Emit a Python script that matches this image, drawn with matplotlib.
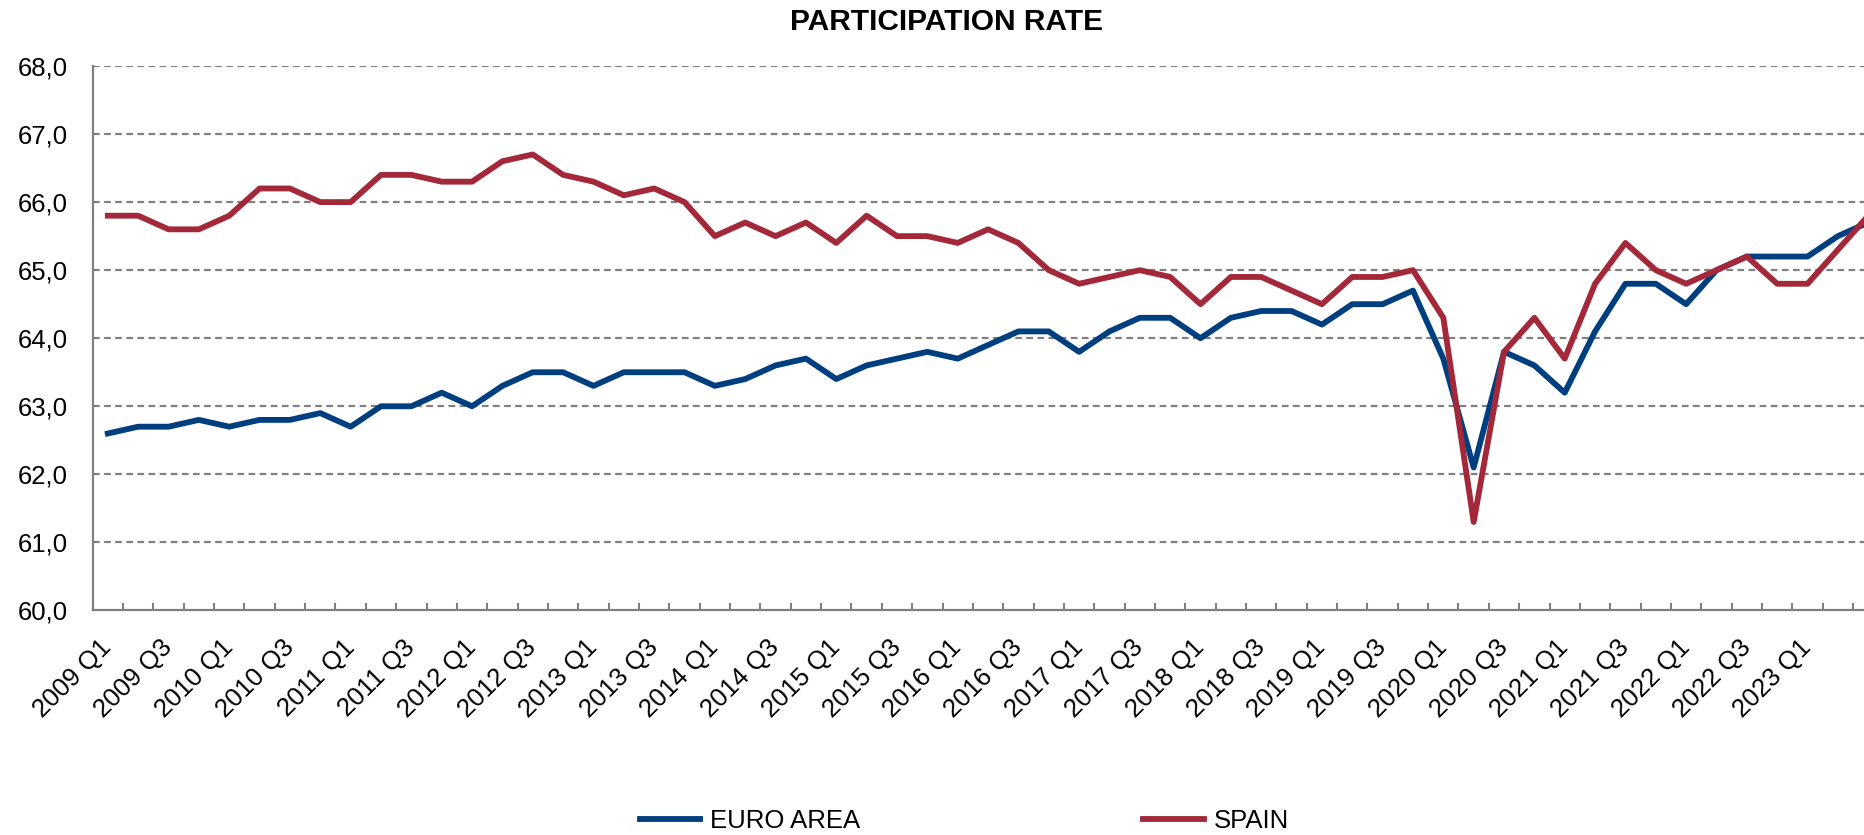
import matplotlib
matplotlib.use('Agg')
import matplotlib.pyplot as plt
import numpy as np

plt.rcParams['font.family'] = ['Liberation Sans', 'DejaVu Sans']

# Quarterly categories 2009 Q1 - 2023 Q3
quarters = [f'{y} Q{q}' for y in range(2009, 2024) for q in range(1, 5)][:59]

euro_area = [62.6, 62.7, 62.7, 62.8, 62.7, 62.8, 62.8, 62.9,
             62.7, 63.0, 63.0, 63.2, 63.0, 63.3, 63.5, 63.5,
             63.3, 63.5, 63.5, 63.5, 63.3, 63.4, 63.6, 63.7,
             63.4, 63.6, 63.7, 63.8, 63.7, 63.9, 64.1, 64.1,
             63.8, 64.1, 64.3, 64.3, 64.0, 64.3, 64.4, 64.4,
             64.2, 64.5, 64.5, 64.7, 63.7, 62.1, 63.8, 63.6,
             63.2, 64.1, 64.8, 64.8, 64.5, 65.0, 65.2, 65.2,
             65.2, 65.5, 65.7]

spain = [65.8, 65.8, 65.6, 65.6, 65.8, 66.2, 66.2, 66.0,
         66.0, 66.4, 66.4, 66.3, 66.3, 66.6, 66.7, 66.4,
         66.3, 66.1, 66.2, 66.0, 65.5, 65.7, 65.5, 65.7,
         65.4, 65.8, 65.5, 65.5, 65.4, 65.6, 65.4, 65.0,
         64.8, 64.9, 65.0, 64.9, 64.5, 64.9, 64.9, 64.7,
         64.5, 64.9, 64.9, 65.0, 64.3, 61.3, 63.8, 64.3,
         63.7, 64.8, 65.4, 65.0, 64.8, 65.0, 65.2, 64.8,
         64.8, 65.3, 65.8]

y_ticks = [60, 61, 62, 63, 64, 65, 66, 67, 68]
y_labels = ['60,0', '61,0', '62,0', '63,0', '64,0', '65,0', '66,0', '67,0', '68,0']

BLUE = '#003F7F'
RED = '#A3293A'
GREY = '#808080'

fig = plt.figure(figsize=(18.64, 8.35), dpi=100)
ax = fig.add_axes([0.0497, 0.2689, 0.9503, 0.6521])

x = np.arange(len(quarters))
ax.plot(x, euro_area, color=BLUE, lw=4.2, label='EURO AREA', solid_joinstyle='round')
ax.plot(x, spain, color=RED, lw=4.2, label='SPAIN', solid_joinstyle='round')

ax.set_xlim(-0.5, 57.86)
ax.set_ylim(60, 68)

# grid
for v in y_ticks[1:]:
    ax.axhline(v, color=GREY, lw=1.6, dashes=(3, 2), zorder=0)

ax.set_yticks(y_ticks)
ax.set_yticklabels(y_labels, fontsize=18.5)
ax.tick_params(axis='y', length=0, pad=18)

ax.set_xticks(x[::2][:29])
ax.set_xticklabels(quarters[::2][:29], fontsize=18.5, rotation=45,
                   ha='right', va='center', rotation_mode='anchor')
ax.tick_params(axis='x', which='major', length=0, pad=24)
ax.set_xticks(np.arange(-0.5, 58, 1), minor=True)
ax.tick_params(axis='x', which='minor', direction='in', length=5, width=1.5, color=GREY)

for s in ['top', 'right']:
    ax.spines[s].set_visible(False)
for s in ['left', 'bottom']:
    ax.spines[s].set_color(GREY)
    ax.spines[s].set_linewidth(1.6)

fig.text(0.508, 0.974, 'PARTICIPATION RATE', ha='center', va='center',
         fontsize=21.5, fontweight='bold')

fig.legend(loc='center', bbox_to_anchor=(0.5174, 0.0168), ncol=2, frameon=False,
           fontsize=18.5, handlelength=2.35, handletextpad=0.4, columnspacing=11,
           borderpad=0)

fig.savefig('out.png', dpi=100)
